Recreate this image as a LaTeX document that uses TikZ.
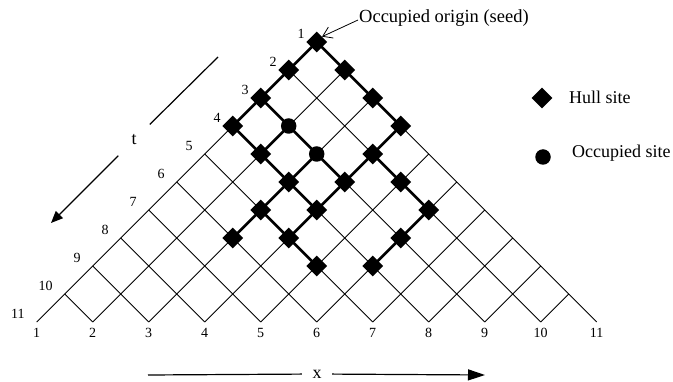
\documentclass[tikz,border=0pt]{standalone}
\usepackage{fontspec}
\setmainfont{Liberation Serif}
\usetikzlibrary{arrows.meta,shapes.geometric}
\begin{document}
\begin{tikzpicture}[x=1pt,y=-1pt,
  grid/.style={line width=0.8pt},
  bond/.style={line width=2.6pt},
  axis/.style={line width=1.2pt},
  hull/.style={diamond,fill=black,inner sep=0pt,minimum width=21pt,minimum height=21pt},
  occ/.style={circle,fill=black,inner sep=0pt,minimum size=15.5pt},
  num/.style={font=\fontsize{14}{15}\selectfont,inner sep=0pt},
  lab/.style={font=\fontsize{18}{20}\selectfont,inner sep=0pt}]
\useasboundingbox (0,0) rectangle (673,382);
% lattice sites
\foreach \t in {1,...,11}{
  \pgfmathtruncatemacro\jm{\t-1}
  \foreach \j in {0,...,\jm}{
    \coordinate (s-\t-\j) at ({316.7+28*(2*\j-\t+1)},{42+28*(\t-1)});
  }
}
% grid lines
\foreach \t in {1,...,11}{
  \pgfmathtruncatemacro\a{11-\t}
  \pgfmathtruncatemacro\b{\t-1}
  \draw[grid] (s-\t-0) -- (s-11-\a);
  \draw[grid] (s-\t-\b) -- (s-11-\b);
}
% time labels
\foreach \t in {1,...,11}{
  \node[num,anchor=east] (tl-\t) at ([xshift=-12pt,yshift=8pt]s-\t-0) {\t};
}
% position labels
\foreach \j in {0,...,10}{
  \pgfmathtruncatemacro\k{\j+1}
  \node[num] (xl-\j) at ([yshift=-11pt]s-11-\j) {\k};
}
% thick bonds
\foreach \a/\b/\c/\d in {1/0/2/0,1/0/2/1,2/0/3/0,2/1/3/2,3/0/4/0,3/0/4/1,3/2/4/3,
  4/0/5/1,4/1/5/1,4/1/5/2,4/3/5/3,5/1/6/2,5/2/6/2,5/2/6/3,5/3/6/3,5/3/6/4,
  6/2/7/2,6/2/7/3,6/3/7/3,6/4/7/5,7/2/8/2,7/2/8/3,7/3/8/3,7/5/8/5,8/3/9/4,8/5/9/5}{
  \draw[bond] (s-\a-\b) -- (s-\c-\d);
}
% hull sites
\foreach \a/\b in {1/0,2/0,2/1,3/0,3/2,4/0,4/3,5/1,5/3,6/2,6/3,6/4,7/2,7/3,7/5,8/2,8/3,8/5,9/4,9/5}{
  \node[hull] (h-\a-\b) at (s-\a-\b) {};
}
% occupied sites
\foreach \a/\b in {4/1,5/2}{
  \node[occ] (o-\a-\b) at (s-\a-\b) {};
}
% seed label
\node[lab,anchor=west,font=\fontsize{18.5}{20}\selectfont] (seed) at (359,18) {Occupied origin (seed)};
\draw[grid,-{Straight Barb[length=9pt,width=12pt]}] ([xshift=-1pt,yshift=-2pt]seed.west) -- (h-1-0.north east);
% legend
\node[hull] (lh) at (542,98) {};
\node[lab,anchor=west] (lht) at (569,97) {Hull site};
\node[occ] (lo) at (543,157) {};
\node[lab,anchor=west] (lot) at (572,153) {Occupied site};
% t axis
\coordinate (ta) at (218,57);
\node[lab,circle,minimum size=44pt] (tlab) at (134,140) {t};
\coordinate (tb) at (51,223);
\draw[axis] (ta) -- (tlab);
\draw[axis,-{Triangle[length=12pt,width=10pt]}] (tlab) -- (tb);
% x axis
\coordinate (xa) at (148,375);
\node[lab,minimum width=30pt] (xlab) at (317,374) {x};
\coordinate (xb) at (485,375);
\draw[axis] (xa) -- (xlab);
\draw[axis,-{Triangle[length=17pt,width=11pt]}] (xlab) -- (xb);
\end{tikzpicture}
\end{document}
